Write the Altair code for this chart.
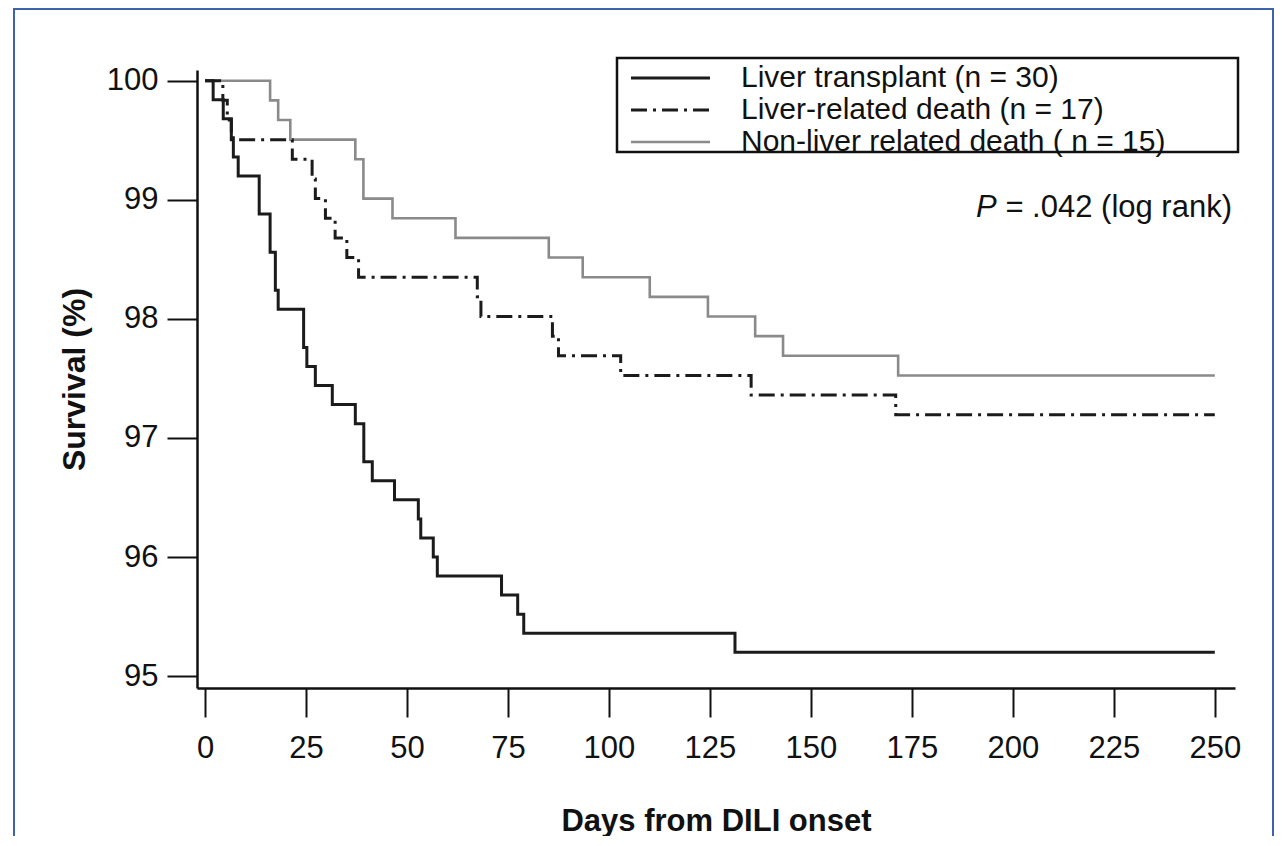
import altair as alt
import pandas as pd

# ---------------- data ----------------
series_names = [
    "Liver transplant (n = 30)",
    "Liver-related death (n = 17)",
    "Non-liver related death ( n = 15)",
]

days_transplant = [0, 2.0, 4.5, 6.5, 7.0, 8.2, 13.4, 16.1, 17.4, 18.1, 24.4, 25.2, 27.3,
                   31.5, 37.2, 39.3, 41.4, 46.9, 52.8, 53.4, 56.5, 57.5, 73.4, 77.4, 78.9,
                   131.2, 250]
surv_transplant = [100, 99.84, 99.68, 99.52, 99.36, 99.20, 98.88, 98.56, 98.24, 98.08, 97.76,
                   97.60, 97.44, 97.28, 97.12, 96.80, 96.64, 96.48, 96.32, 96.16, 96.00, 95.84,
                   95.68, 95.52, 95.36, 95.20, 95.20]

days_liver = [0, 4.4, 5.5, 6.5, 21.6, 26.5, 27.3, 29.8, 32.2, 35.1, 38.0, 67.4, 68.3, 86.0,
              87.5, 102.9, 135.2, 171.0, 250]
surv_liver = [100, 99.835, 99.67, 99.505, 99.34, 99.175, 99.01, 98.845, 98.68, 98.515, 98.35,
              98.185, 98.02, 97.855, 97.69, 97.525, 97.36, 97.195, 97.195]

days_nonliver = [0, 16.1, 18.1, 21.1, 37.2, 39.2, 46.4, 62.0, 85.1, 93.5, 110.1, 124.5, 136.2,
                 143.1, 171.6, 250]
surv_nonliver = [100, 99.835, 99.67, 99.505, 99.34, 99.01, 98.845, 98.68, 98.515, 98.35, 98.185,
                 98.02, 97.855, 97.69, 97.525, 97.525]

x_ticks = [0, 25, 50, 75, 100, 125, 150, 175, 200, 225, 250]
y_ticks = [95, 96, 97, 98, 99, 100]
x_title = "Days from DILI onset"
y_title = "Survival (%)"
p_italic = "P"
p_rest = " = .042 (log rank)"

# ---------------- styles ----------------
FONT = "Liberation Sans"
line_colors = ["#1b1b1b", "#1b1b1b", "#8a8a8a"]
line_dashes = [[1, 0], [16, 6, 3, 6], [1, 0]]
line_widths = [3, 3, 2.6]

all_days = [days_transplant, days_liver, days_nonliver]
all_surv = [surv_transplant, surv_liver, surv_nonliver]

x_enc = alt.X(
    "day:Q",
    scale=alt.Scale(domain=[-2, 255], nice=False, zero=False),
    axis=alt.Axis(values=x_ticks, title=x_title, grid=False, tickSize=29, tickWidth=2,
                  domainWidth=2.5, labelFontSize=31, labelPadding=16, labelFlush=False,
                  titleFontSize=31, titleFontWeight="bold", titlePadding=43),
)
y_enc = alt.Y(
    "surv:Q",
    scale=alt.Scale(domain=[94.9, 100.09], nice=False, zero=False),
    axis=alt.Axis(values=y_ticks, title=y_title, grid=False, tickSize=30, tickWidth=2,
                  domainWidth=2.5, labelFontSize=31, labelPadding=9, labelFlush=False,
                  titleFontSize=32, titleFontWeight="bold", titlePadding=15),
)

layers = []

# outer frame of the figure panel
frame = alt.Chart(pd.DataFrame({"k": [0]})).mark_rect(
    fillOpacity=0, stroke="#3f62ad", strokeWidth=2
).encode(x=alt.value(-183), x2=alt.value(1076), y=alt.value(-61), y2=alt.value(900))
layers.append(frame)

# survival curves: draw grey first, then dash-dot, then black on top
for i in [2, 1, 0]:
    d = pd.DataFrame({"day": all_days[i], "surv": all_surv[i], "series": series_names[i]})
    layers.append(
        alt.Chart(d).mark_line(
            interpolate="step-after", color=line_colors[i], strokeWidth=line_widths[i],
            strokeDash=line_dashes[i], strokeCap="butt"
        ).encode(x=x_enc, y=y_enc)
    )

# legend box
box = alt.Chart(pd.DataFrame({"k": [0]})).mark_rect(
    fill="white", stroke="#111111", strokeWidth=2.5
).encode(x=alt.value(420), x2=alt.value(1041), y=alt.value(-12), y2=alt.value(82))
layers.append(box)

for i, name in enumerate(series_names):
    ld = pd.DataFrame({"label": [name]})
    yy = 8 + 32 * i
    layers.append(
        alt.Chart(ld).mark_rule(
            color=line_colors[i], strokeWidth=line_widths[i], strokeDash=line_dashes[i],
            strokeCap="butt"
        ).encode(x=alt.value(434), x2=alt.value(513), y=alt.value(yy))
    )
    layers.append(
        alt.Chart(ld).mark_text(
            align="left", baseline="middle", fontSize=30, font=FONT, color="#111111"
        ).encode(x=alt.value(544), y=alt.value(yy), text="label:N")
    )

# P-value annotation
rest_width = 7.587 * 31
layers.append(
    alt.Chart(pd.DataFrame({"t": [p_rest]})).mark_text(
        align="right", baseline="middle", fontSize=31, font=FONT, color="#111111"
    ).encode(x=alt.value(1035), y=alt.value(138), text="t:N")
)
layers.append(
    alt.Chart(pd.DataFrame({"t": [p_italic]})).mark_text(
        align="right", baseline="middle", fontSize=31, font=FONT, fontStyle="italic",
        color="#111111"
    ).encode(x=alt.value(1035 - rest_width), y=alt.value(138), text="t:N")
)

chart = alt.layer(*layers).properties(
    width=1038,
    height=618,
    padding={"left": 189, "top": 62, "right": 40, "bottom": 148},
    autosize=alt.AutoSizeParams(type="none"),
).configure(font=FONT).configure_view(strokeWidth=0).configure_axis(
    domainColor="#111111", tickColor="#111111", labelColor="#111111", titleColor="#111111",
    labelFont=FONT, titleFont=FONT
)

chart.save("out.html", embed_options={"renderer": "svg", "actions": False})
